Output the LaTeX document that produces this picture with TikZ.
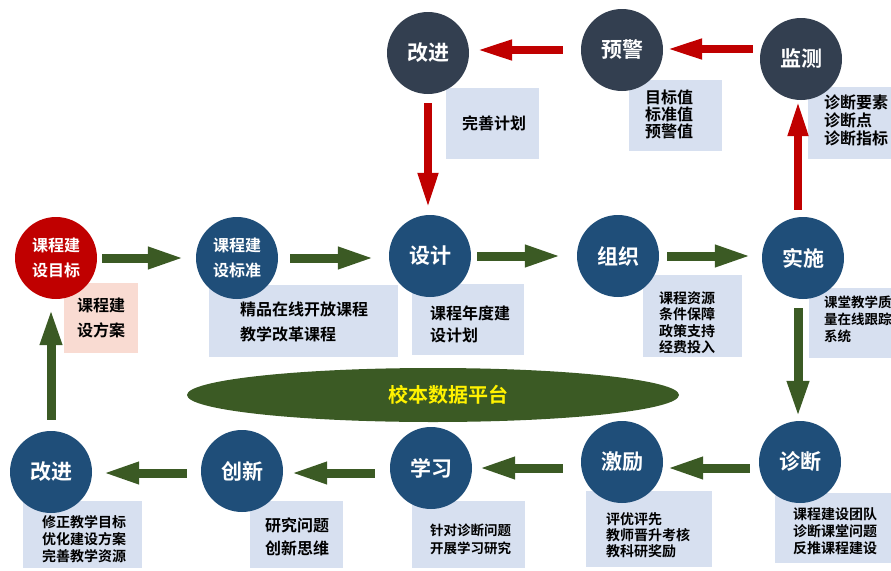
\documentclass[tikz,border=0pt]{standalone}
\usepackage{fontspec}
\setmainfont{Noto Sans CJK SC}[BoldFont={Noto Sans CJK SC Bold}]
\usetikzlibrary{arrows.meta}
\usetikzlibrary{shapes.geometric}

\definecolor{phaseblue}{HTML}{1F4E79}
\definecolor{phasedark}{HTML}{333F50}
\definecolor{phasered}{HTML}{C00000}
\definecolor{flowgreen}{HTML}{3B5A24}
\definecolor{notefill}{HTML}{D7E0F0}
\definecolor{notepink}{HTML}{F9DBD2}

\begin{document}
\begin{tikzpicture}[x=1pt, y=-1pt,
        phase/.style={circle, fill=phaseblue, text=white, minimum size=82pt, inner sep=0pt, align=center, font=\bfseries\fontsize{21}{21}\selectfont},
        smallphase/.style={phase, font=\bfseries\fontsize{16}{25}\selectfont},
        watch/.style={phase, fill=phasedark},
        note/.style={inner sep=0pt, align=left, anchor=west, font=\bfseries\fontsize{16}{25}\selectfont},
        smallnote/.style={note, font=\bfseries\fontsize{14}{16.5}\selectfont},
        notebox/.style={fill=notefill},
        goflow/.style={-{Triangle[length=37pt,width=20pt]}, draw=flowgreen, line width=9pt},
        backflow/.style={-{Triangle[length=35pt,width=19pt]}, draw=phasered, line width=7.5pt}
      ]
        \useasboundingbox (0,0) rectangle (891,570);

        % boxes behind the circles
        \fill[notepink] (64,283) rectangle (138,353);
        \fill[notebox]  (209,285) rectangle (398,357);
        \fill[notebox]  (412,284) rectangle (524,355);
        \fill[notebox]  (643,275) rectangle (742,357);
        \fill[notebox]  (809,288) rectangle (895,358);
        \fill[notebox]  (446,88)  rectangle (539,159);
        \fill[notebox]  (629,80)  rectangle (722,151);
        \fill[notebox]  (808,87)  rectangle (895,159);
        \fill[notebox]  (23,501)  rectangle (142,568);
        \fill[notebox]  (250,501) rectangle (343,568);
        \fill[notebox]  (412,501) rectangle (525,568);
        \fill[notebox]  (586,491) rectangle (712,567);
        \fill[notebox]  (775,493) rectangle (895,563);

        % platform
        \node[ellipse, fill=flowgreen, minimum width=492pt, minimum height=54pt, inner sep=0pt] (platform) at (433,395) {};
        \node[text=yellow, font=\bfseries\fontsize{20}{20}\selectfont] (platformtext) at ([xshift=15pt]platform.center) {校本数据平台};

        % middle row
        \node[smallphase, fill=phasered] (goal)     at (56,258)  {课程建\\设目标};
        \node[smallphase]                (standard) at (237,258) {课程建\\设标准};
        \node[phase]                     (design)   at (430,256) {设计};
        \node[phase]                     (organize) at (618,256) {组织};
        \node[phase]                     (run)      at (803,258) {实施};

        % top row
        \node[watch] (improvetop) at (428,53) {改进};
        \node[watch] (warn)       at (622,50) {预警};
        \node[watch] (monitor)    at (801,59) {监测};

        % bottom row
        \node[phase] (improve)   at (51,472)  {改进};
        \node[phase] (innovate)  at (242,471) {创新};
        \node[phase] (study)     at (431,468) {学习};
        \node[phase] (reward)    at (622,462) {激励};
        \node[phase] (diagnose)  at (800,462) {诊断};

        % notes
        \node[note, align=center, anchor=center] (goalnote) at (101,318) {课程建\\设方案};
        \node[note] (standardnote) at (240,321.5) {精品在线开放课程\\教学改革课程};
        \node[note, font=\bfseries\fontsize{16}{22}\selectfont] (designnote) at (430,324) {课程年度建\\设计划};
        \node[smallnote] (organizenote) at (659,322.5) {课程资源\\条件保障\\政策支持\\经费投入};
        \node[smallnote, font=\bfseries\fontsize{13.5}{17}\selectfont] (runnote) at (824,319) {课堂教学质\\量在线跟踪\\系统};
        \node[note] (improvetopnote) at (462,123) {完善计划};
        \node[note, font=\bfseries\fontsize{16}{17}\selectfont] (warnnote) at (645,114) {目标值\\标准值\\预警值};
        \node[note, font=\bfseries\fontsize{16}{18}\selectfont] (monitornote) at (824,120) {诊断要素\\诊断点\\诊断指标};
        \node[smallnote, font=\bfseries\fontsize{14}{17}\selectfont] (improvenote) at (42,539) {修正教学目标\\优化建设方案\\完善教学资源};
        \node[note, font=\bfseries\fontsize{16}{23}\selectfont] (innovatenote) at (265,536.5) {研究问题\\创新思维};
        \node[smallnote, font=\bfseries\fontsize{13.5}{18}\selectfont] (studynote) at (430,539) {针对诊断问题\\开展学习研究};
        \node[smallnote, font=\bfseries\fontsize{14}{16}\selectfont] (rewardnote) at (606,535) {评优评先\\教师晋升考核\\教科研奖励};
        \node[smallnote, font=\bfseries\fontsize{14}{17}\selectfont] (diagnosenote) at (793,531) {课程建设团队\\诊断课堂问题\\反推课程建设};

        % green flow
        \draw[goflow, shorten <=5pt, shorten >=11pt]  (goal.east) -- (goal.east -| standard.west);
        \draw[goflow, shorten <=12pt, shorten >=14pt] (standard.east) -- (standard.east -| design.west);
        \draw[goflow, shorten <=6pt, shorten >=15pt]  (design.east) -- (design.east -| organize.west);
        \draw[goflow, shorten <=8pt, shorten >=10pt]  (organize.east) -- (organize.east -| run.west);
        \draw[goflow, shorten <=9pt, shorten >=3pt]   ([xshift=-5pt]run.south) -- ([xshift=-5pt]run.south |- diagnose.north);
        \draw[goflow, shorten <=9pt, shorten >=3pt]   ([yshift=-6pt]diagnose.west) -- ([yshift=-6pt]diagnose.west -| reward.east);
        \draw[goflow, shorten <=18pt, shorten >=6pt]  ([yshift=-6pt]reward.west) -- ([yshift=-6pt]reward.west -| study.east);
        \draw[goflow, shorten <=15pt, shorten >=7pt]  ([yshift=-5pt]study.west) -- ([yshift=-5pt]study.west -| innovate.east);
        \draw[goflow, shorten <=14pt, shorten >=10pt] ([yshift=-2pt]innovate.west) -- ([yshift=-2pt]innovate.west -| improve.east);
        \draw[goflow, shorten <=11pt, shorten >=9pt]  (improve.north) -- (improve.north |- goal.south);

        % red loop
        \draw[backflow, shorten <=7pt, shorten >=1pt]  ([xshift=-5pt]run.north) -- ([xshift=-5pt]run.north |- monitor.south);
        \draw[backflow, shorten <=7pt, shorten >=4pt]  ([yshift=10pt]monitor.west) -- ([yshift=10pt]monitor.west -| warn.east);
        \draw[backflow, shorten <=18pt, shorten >=8pt] (warn.west) -- (warn.west -| improvetop.east);
        \draw[backflow, shorten <=9pt, shorten >=7pt]  (improvetop.south) -- (improvetop.south |- design.north);
      \end{tikzpicture}
\end{document}
